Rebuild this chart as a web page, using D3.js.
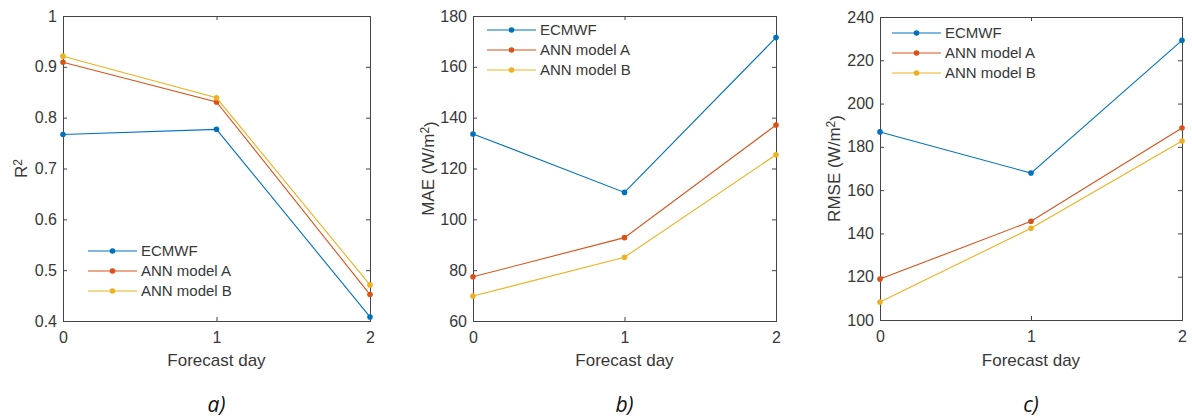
<!DOCTYPE html>
<html><head><meta charset="utf-8">
<script src="https://cdn.jsdelivr.net/npm/d3@7"></script>
<style>body{margin:0;background:#fff}svg{display:block}</style>
</head><body><svg id="c" width="1192" height="418"></svg>
<script>
const days = [0, 1, 2];
const seriesNames = ["ECMWF", "ANN model A", "ANN model B"];
const colors = ["#0072BD", "#D95319", "#EDB120"];

const r2Ecmwf = [0.767, 0.777, 0.408];
const r2AnnA = [0.909, 0.831, 0.452];
const r2AnnB = [0.921, 0.839, 0.471];

const maeEcmwf = [133.6, 110.6, 171.5];
const maeAnnA = [77.4, 92.8, 137.1];
const maeAnnB = [69.8, 85.1, 125.4];

const rmseEcmwf = [186.9, 167.9, 229.2];
const rmseAnnA = [118.9, 145.6, 188.7];
const rmseAnnB = [108.3, 142.4, 182.7];

const r2Ticks = [0.4, 0.5, 0.6, 0.7, 0.8, 0.9, 1];
const maeTicks = [60, 80, 100, 120, 140, 160, 180];
const rmseTicks = [100, 120, 140, 160, 180, 200, 220, 240];
const panelLabels = ["a)", "b)", "c)"];

const panels = [
  {series:[r2Ecmwf, r2AnnA, r2AnnB], ticks:r2Ticks, ylab:"R", sup:"2", yl:"", fmt:d=>d===1?"1":d.toFixed(1),
   box:[63,16,370,321], ylx:27, leg:{x:88, y:251, dy:20}},
  {series:[maeEcmwf, maeAnnA, maeAnnB], ticks:maeTicks, ylab:"MAE (W/m", sup:"2", yl:")", fmt:d=>d,
   box:[473,16,776,321], ylx:434, leg:{x:487, y:30, dy:20}},
  {series:[rmseEcmwf, rmseAnnA, rmseAnnB], ticks:rmseTicks, ylab:"RMSE (W/m", sup:"2", yl:")", fmt:d=>d,
   box:[880,17,1182,320], ylx:840, leg:{x:892, y:33, dy:20}}
];

const svg = d3.select("#c");
const font = "'Liberation Sans', Arial, sans-serif";
const axisCol = "#444";
const textCol = "#383838";

panels.forEach((p, pi) => {
  const [x0,y0,x1,y1] = p.box;
  const x = d3.scaleLinear().domain([0,2]).range([x0,x1]);
  const y = d3.scaleLinear().domain([p.ticks[0], p.ticks[p.ticks.length-1]]).range([y1,y0]);
  const g = svg.append("g");

  const ax = (gen, tr) => {
    const a = g.append("g").attr("transform", tr).call(gen);
    a.select(".domain").attr("stroke", axisCol);
    a.selectAll(".tick line").attr("stroke", axisCol);
    a.selectAll("text").attr("fill", textCol).style("font-family", font).style("font-size","16px");
    return a;
  };
  ax(d3.axisBottom(x).tickValues(days).tickSize(-4).tickPadding(11).tickFormat(d3.format("d")), `translate(0,${y1})`);
  ax(d3.axisTop(x).tickValues(days).tickSize(-4).tickFormat(""), `translate(0,${y0})`);
  ax(d3.axisLeft(y).tickValues(p.ticks).tickSize(-4).tickPadding(6).tickFormat(p.fmt), `translate(${x0},0)`);
  ax(d3.axisRight(y).tickValues(p.ticks).tickSize(-4).tickFormat(""), `translate(${x1},0)`);

  const line = d3.line().x((d,i)=>x(days[i])).y(d=>y(d));
  p.series.forEach((s, si) => {
    g.append("path").attr("d", line(s)).attr("fill","none").attr("stroke", colors[si]).attr("stroke-width",1.1);
    g.selectAll(null).data(s).enter().append("circle")
      .attr("cx",(d,i)=>x(days[i])).attr("cy",d=>y(d)).attr("r",2.8).attr("fill",colors[si]);
  });

  seriesNames.forEach((n, si) => {
    const ly = p.leg.y + si*p.leg.dy;
    g.append("line").attr("x1",p.leg.x).attr("x2",p.leg.x+49).attr("y1",ly).attr("y2",ly)
      .attr("stroke",colors[si]).attr("stroke-width",1.1);
    g.append("circle").attr("cx",p.leg.x+24.5).attr("cy",ly).attr("r",2.8).attr("fill",colors[si]);
    g.append("text").attr("x",p.leg.x+53).attr("y",ly).attr("dy","0.35em").text(n)
      .attr("fill",textCol).style("font-family",font).style("font-size","15px");
  });

  g.append("text").attr("x",(x0+x1)/2).attr("y",366).attr("text-anchor","middle").text("Forecast day")
    .attr("fill",textCol).style("font-family",font).style("font-size","17px");

  const yt = g.append("text").attr("transform",`translate(${p.ylx},${(y0+y1)/2}) rotate(-90)`)
    .attr("text-anchor","middle").attr("fill",textCol).style("font-family",font).style("font-size","17px");
  yt.append("tspan").text(p.ylab);
  yt.append("tspan").text(p.sup).attr("dy","-0.45em").style("font-size","12px");
  yt.append("tspan").text(p.yl).attr("dy","0.45em");

  g.append("text").attr("x",(x0+x1)/2).attr("y",412).attr("text-anchor","middle").text(panelLabels[pi])
    .attr("fill","#111").style("font-family","'Open Sans', sans-serif").style("font-style","italic").style("font-size","21px");
});
</script></body></html>
